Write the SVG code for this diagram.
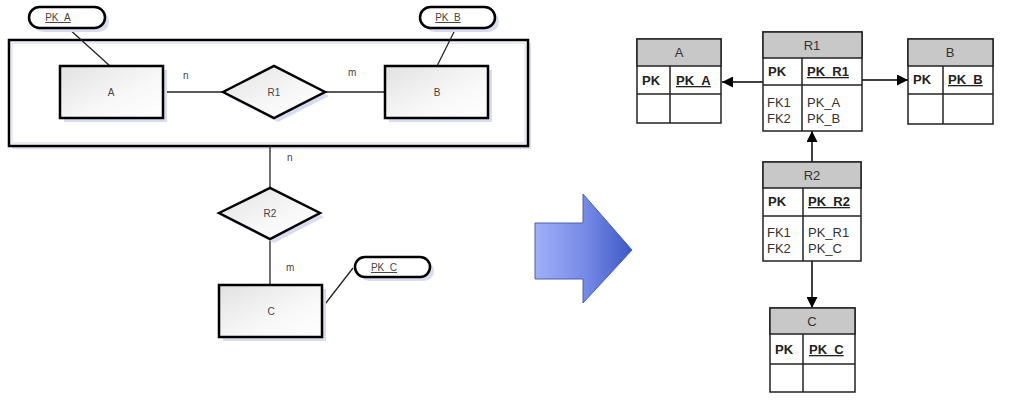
<svg xmlns="http://www.w3.org/2000/svg" width="1011" height="407" viewBox="0 0 1011 407">
<defs>
<linearGradient id="ent" x1="0" y1="0" x2="1" y2="1">
<stop offset="0" stop-color="#e2e2e2"/>
<stop offset="0.6" stop-color="#f8f8f8"/>
<stop offset="1" stop-color="#ffffff"/>
</linearGradient>
<linearGradient id="blue" x1="0" y1="0" x2="1" y2="0">
<stop offset="0" stop-color="#a0aff8"/>
<stop offset="0.5" stop-color="#788ce8"/>
<stop offset="1" stop-color="#3d58c4"/>
</linearGradient>
<marker id="ah" viewBox="0 0 10 10" refX="10" refY="5" markerWidth="11" markerHeight="11" markerUnits="userSpaceOnUse" orient="auto">
<path d="M0,0 L10,5 L0,10 Z" fill="#000"/>
</marker>
<style>
.sh{fill:#d9dcf0}
.ent{fill:url(#ent);stroke:#000;stroke-width:2.5}
.rel{fill:url(#ent);stroke:#000;stroke-width:2.5}
.pill{fill:#fff;stroke:#000;stroke-width:2.5}
.ln{stroke:#222;stroke-width:1.3;fill:none}
.t{font-family:"Liberation Sans",Arial,sans-serif;font-size:10px;fill:#444;text-anchor:middle}
.tu{font-family:"Liberation Sans",Arial,sans-serif;font-size:10px;fill:#444;text-anchor:middle;text-decoration:underline}
.card{font-family:"Liberation Sans",Arial,sans-serif;font-size:10px;fill:#444}
.tb{fill:#fff;stroke:#222;stroke-width:1.5}
.hd{fill:#c8c8c8;stroke:#222;stroke-width:1.5}
.tl{stroke:#222;stroke-width:1.5}
.th{font-family:"Liberation Sans",Arial,sans-serif;font-size:13px;fill:#333;text-anchor:middle}
.pk{font-family:"Liberation Sans",Arial,sans-serif;font-size:13px;font-weight:bold;fill:#222}
.pku{font-family:"Liberation Sans",Arial,sans-serif;font-size:13px;font-weight:bold;fill:#222;text-decoration:underline}
.fk{font-family:"Liberation Sans",Arial,sans-serif;font-size:13px;fill:#333}
.cn{stroke:#000;stroke-width:1.5;fill:none}
</style>
</defs>
<rect width="1011" height="407" fill="#fff"/>

<g id="aggregate">
<rect x="12" y="43" width="519" height="106" fill="#dde0f0"/>
<rect x="9" y="40" width="519" height="106" fill="#fff" stroke="#000" stroke-width="2.5"/>
<rect x="12" y="43" width="513" height="100" fill="none" stroke="#e4e6f2" stroke-width="1.5"/>
</g>

<g id="er-connectors">
<line class="ln" x1="68" y1="28" x2="110" y2="66"/>
<line class="ln" x1="456" y1="28" x2="437" y2="66"/>
<line class="ln" x1="163" y1="92" x2="223" y2="92"/>
<line class="ln" x1="325" y1="92" x2="385" y2="92"/>
<line class="ln" x1="270" y1="146" x2="270" y2="188"/>
<line class="ln" x1="270" y1="239" x2="270" y2="285"/>
<line class="ln" x1="353" y1="268" x2="322" y2="308"/>
<text class="card" x="183" y="79">n</text>
<text class="card" x="348" y="76">m</text>
<text class="card" x="287" y="161">n</text>
<text class="card" x="286" y="271">m</text>
</g>

<g id="PK_A">
<rect class="sh" x="33" y="11" width="76" height="21" rx="10.5"/>
<rect class="pill" x="29" y="7" width="76" height="21" rx="10.5"/>
<text class="tu" x="58" y="21">PK_A</text>
</g>
<g id="PK_B">
<rect class="sh" x="424" y="11" width="75" height="21" rx="10.5"/>
<rect class="pill" x="420" y="7" width="75" height="21" rx="10.5"/>
<text class="tu" x="448" y="21">PK_B</text>
</g>
<g id="PK_C">
<rect class="sh" x="359" y="261" width="75" height="20" rx="10"/>
<rect class="pill" x="355" y="257" width="75" height="20" rx="10"/>
<text class="tu" x="384" y="271">PK_C</text>
</g>

<g id="A">
<rect class="sh" x="64" y="70" width="103" height="52"/>
<rect class="ent" x="60" y="66" width="103" height="52"/>
<text class="t" x="111" y="96">A</text>
</g>
<g id="B">
<rect class="sh" x="389" y="70" width="103" height="52"/>
<rect class="ent" x="385" y="66" width="103" height="52"/>
<text class="t" x="437" y="96">B</text>
</g>
<g id="R1">
<polygon class="sh" points="227,96 278,70 329,96 278,122"/>
<polygon class="rel" points="223,92 274,66 325,92 274,118"/>
<text class="t" x="274" y="96">R1</text>
</g>
<g id="R2">
<polygon class="sh" points="223,217 274,192 324,217 274,243"/>
<polygon class="rel" points="219,213 270,188 320,213 270,239"/>
<text class="t" x="270" y="217">R2</text>
</g>
<g id="C">
<rect class="sh" x="223" y="289" width="103" height="52"/>
<rect class="ent" x="219" y="285" width="103" height="52"/>
<text class="t" x="271" y="315">C</text>
</g>

<g id="big-arrow">
<polygon points="535,223 583,223 583,194 632,250 583,303 583,279 535,279" fill="url(#blue)" stroke="#4a5fb0" stroke-width="1"/>
</g>

<g id="table-connectors">
<line class="cn" x1="763" y1="82" x2="722" y2="82" marker-end="url(#ah)"/>
<line class="cn" x1="862" y1="80" x2="908" y2="80" marker-end="url(#ah)"/>
<line class="cn" x1="812" y1="162" x2="812" y2="131" marker-end="url(#ah)"/>
<line class="cn" x1="812" y1="261" x2="812" y2="308" marker-end="url(#ah)"/>
</g>

<g id="tA">
<rect class="tb" x="637" y="39" width="84" height="84"/>
<rect class="hd" x="637" y="39" width="84" height="27"/>
<line class="tl" x1="637" y1="94" x2="721" y2="94"/>
<line class="tl" x1="670" y1="66" x2="670" y2="123"/>
<text class="th" x="679" y="57">A</text>
<text class="pk" x="642" y="85">PK</text>
<text class="pku" x="676" y="85">PK_A</text>
</g>

<g id="tR1">
<rect class="tb" x="763" y="32" width="99" height="99"/>
<rect class="hd" x="763" y="32" width="99" height="26"/>
<line class="tl" x1="763" y1="85" x2="862" y2="85"/>
<line class="tl" x1="802" y1="58" x2="802" y2="131"/>
<text class="th" x="812" y="50">R1</text>
<text class="pk" x="768" y="76">PK</text>
<text class="pku" x="807" y="76">PK_R1</text>
<text class="fk" x="767" y="107">FK1</text>
<text class="fk" x="767" y="123">FK2</text>
<text class="fk" x="807" y="107">PK_A</text>
<text class="fk" x="807" y="123">PK_B</text>
</g>

<g id="tB">
<rect class="tb" x="908" y="39" width="85" height="85"/>
<rect class="hd" x="908" y="39" width="85" height="27"/>
<line class="tl" x1="908" y1="94" x2="993" y2="94"/>
<line class="tl" x1="943" y1="66" x2="943" y2="124"/>
<text class="th" x="950" y="57">B</text>
<text class="pk" x="913" y="84">PK</text>
<text class="pku" x="948" y="84">PK_B</text>
</g>

<g id="tR2">
<rect class="tb" x="763" y="162" width="98" height="99"/>
<rect class="hd" x="763" y="162" width="98" height="26"/>
<line class="tl" x1="763" y1="216" x2="861" y2="216"/>
<line class="tl" x1="803" y1="188" x2="803" y2="261"/>
<text class="th" x="812" y="180">R2</text>
<text class="pk" x="768" y="206">PK</text>
<text class="pku" x="808" y="206">PK_R2</text>
<text class="fk" x="767" y="237">FK1</text>
<text class="fk" x="767" y="253">FK2</text>
<text class="fk" x="808" y="237">PK_R1</text>
<text class="fk" x="808" y="253">PK_C</text>
</g>

<g id="tC">
<rect class="tb" x="770" y="308" width="85" height="84"/>
<rect class="hd" x="770" y="308" width="85" height="26"/>
<line class="tl" x1="770" y1="364" x2="855" y2="364"/>
<line class="tl" x1="803" y1="334" x2="803" y2="392"/>
<text class="th" x="812" y="326">C</text>
<text class="pk" x="775" y="354">PK</text>
<text class="pku" x="809" y="354">PK_C</text>
</g>
</svg>
